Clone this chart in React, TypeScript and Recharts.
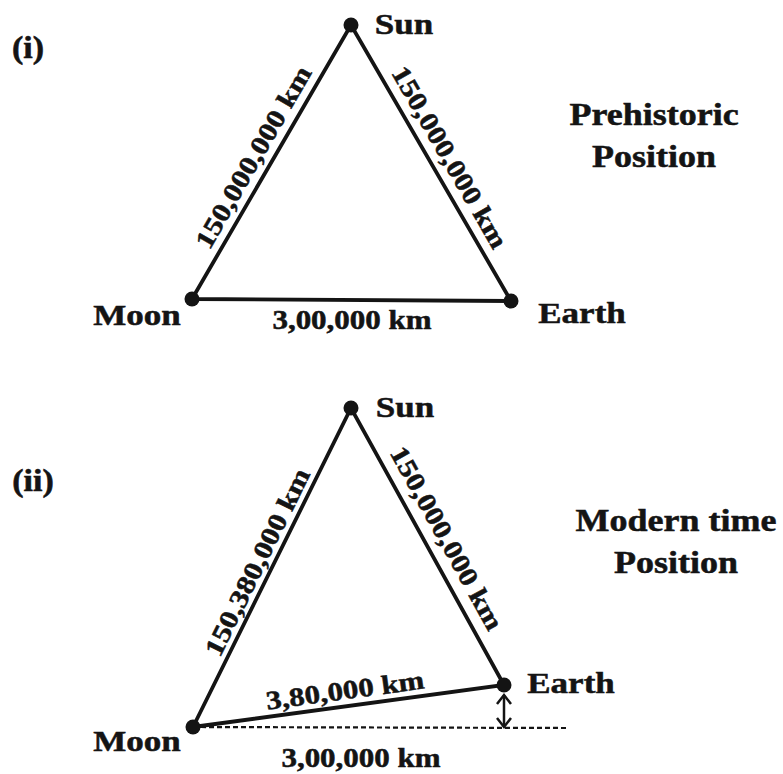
import { ComposedChart, Scatter, XAxis, YAxis } from 'recharts';

// diagram units = pixels of the 783x774 figure, y grows downward
const W = 783;
const H = 774;

// (i) prehistoric position
const sun1 = { x: 351, y: 25 };
const moon1 = { x: 192, y: 299 };
const earth1 = { x: 511, y: 301 };
const triangle1 = [moon1, sun1, earth1, moon1];

// (ii) modern time position
const sun2 = { x: 351, y: 408 };
const moon2 = { x: 193, y: 727 };
const earth2 = { x: 504, y: 685 };
const triangle2 = [moon2, sun2, earth2, moon2];
const oldOrbit = [moon2, { x: 568, y: 728 }];
const driftArrow = [
  { x: 504, y: 695, dir: -1 },
  { x: 504, y: 727, dir: 1 },
];

const bodies = [sun1, moon1, earth1, sun2, moon2, earth2];

const labels = [
  { x: 28, y: 48, text: '(i)', angle: 0, kind: 'tag' },
  { x: 404, y: 24, text: 'Sun', angle: 0, kind: 'name' },
  { x: 137, y: 315, text: 'Moon', angle: 0, kind: 'name' },
  { x: 582, y: 313, text: 'Earth', angle: 0, kind: 'name' },
  { x: 253, y: 157, text: '150,000,000 km', angle: -60, kind: 'dist' },
  { x: 450, y: 157, text: '150,000,000 km', angle: 60, kind: 'dist' },
  { x: 352, y: 320, text: '3,00,000 km', angle: 0, kind: 'dist' },
  { x: 654, y: 114, text: 'Prehistoric', angle: 0, kind: 'title' },
  { x: 654, y: 156, text: 'Position', angle: 0, kind: 'title' },

  { x: 33, y: 481, text: '(ii)', angle: 0, kind: 'tag' },
  { x: 405, y: 407, text: 'Sun', angle: 0, kind: 'name' },
  { x: 137, y: 741, text: 'Moon', angle: 0, kind: 'name' },
  { x: 571, y: 683, text: 'Earth', angle: 0, kind: 'name' },
  { x: 257, y: 562, text: '150,380,000 km', angle: -63.7, kind: 'dist' },
  { x: 447, y: 538, text: '150,000,000 km', angle: 61, kind: 'dist' },
  { x: 345, y: 690, text: '3,80,000 km', angle: -7.7, kind: 'dist' },
  { x: 361, y: 758, text: '3,00,000 km', angle: 0, kind: 'dist' },
  { x: 676, y: 520, text: 'Modern time', angle: 0, kind: 'title' },
  { x: 676, y: 562, text: 'Position', angle: 0, kind: 'title' },
];

const INK = '#141414';
const textStyle: Record<string, { size: number; sy: number }> = {
  tag: { size: 34, sy: 0.9 },
  name: { size: 35, sy: 0.82 },
  dist: { size: 31, sy: 0.85 },
  title: { size: 36, sy: 0.9 },
};

const Empty = () => <g />;

const Dot = (p: any) => <circle cx={p.cx} cy={p.cy} r={7.5} fill={INK} />;

const Chevron = (p: any) => {
  const d = p.payload.dir;
  return (
    <path
      d={`M${p.cx - 7},${p.cy - d * 9} L${p.cx},${p.cy} L${p.cx + 7},${p.cy - d * 9}`}
      fill="none"
      stroke={INK}
      strokeWidth={2.5}
    />
  );
};

const Label = (p: any) => {
  const { text, angle, kind } = p.payload;
  const s = textStyle[kind];
  return (
    <g transform={`translate(${p.cx},${p.cy}) rotate(${angle}) scale(1,${s.sy})`}>
      <text
        textAnchor="middle"
        dominantBaseline="central"
        fontFamily='"Liberation Serif", "Times New Roman", serif'
        fontWeight={700}
        fontSize={s.size}
        fill={INK}
        stroke={INK}
        strokeWidth={0.6}
      >
        {text}
      </text>
    </g>
  );
};

export default function App() {
  return (
    <div style={{ position: 'absolute', left: 0, top: 0, background: '#fff' }}>
      <ComposedChart width={W} height={H} margin={{ top: 0, right: 0, bottom: 0, left: 0 }}>
        <XAxis type="number" dataKey="x" domain={[0, W]} hide />
        <YAxis type="number" dataKey="y" domain={[0, H]} reversed hide />
        <Scatter data={triangle1} line={{ stroke: INK, strokeWidth: 3.8 }} shape={Empty} isAnimationActive={false} />
        <Scatter data={triangle2} line={{ stroke: INK, strokeWidth: 3.8 }} shape={Empty} isAnimationActive={false} />
        <Scatter
          data={oldOrbit}
          line={{ stroke: INK, strokeWidth: 2.2, strokeDasharray: '5 3' }}
          shape={Empty}
          isAnimationActive={false}
        />
        <Scatter data={driftArrow} line={{ stroke: INK, strokeWidth: 2.5 }} shape={Chevron} isAnimationActive={false} />
        <Scatter data={bodies} shape={Dot} isAnimationActive={false} />
        <Scatter data={labels} shape={Label} isAnimationActive={false} />
      </ComposedChart>
    </div>
  );
}
